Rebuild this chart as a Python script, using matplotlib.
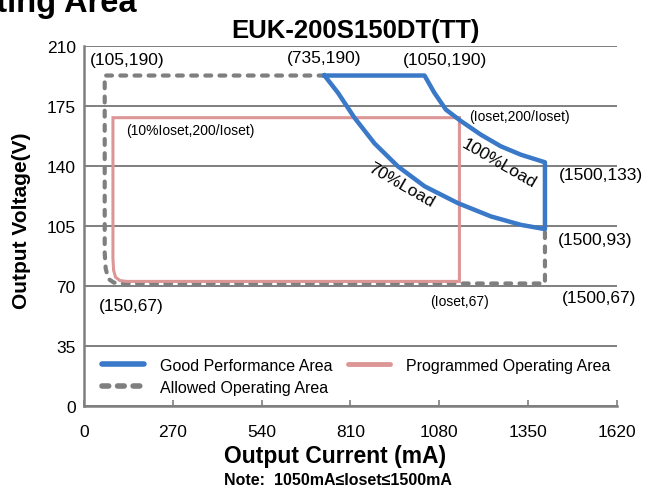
import matplotlib
matplotlib.use("Agg")
import matplotlib.pyplot as plt
from matplotlib.lines import Line2D

plt.rcParams['font.family'] = ['Liberation Sans', 'DejaVu Sans']

# Good performance area (closed outline) (mA, V)
good_i = [731, 1035, 1065, 1100, 1146, 1207, 1267, 1328, 1401, 1401,
          1328, 1237, 1136, 1035, 954, 883, 822, 772, 731]
good_v = [192.6, 192.6, 182.5, 172.7, 166, 158, 151.3, 146.4, 142, 103,
          105.5, 110.4, 118.2, 128, 139.6, 153, 168, 182.5, 192.6]

# Programmed operating area
prog_i = [1141, 88, 88, 90, 96, 109, 130, 1141, 1141]
prog_v = [168, 168, 86, 79, 75, 73, 72.5, 72.5, 168]

# Allowed operating area (dashed)
allow_i = [731, 63, 63, 66, 74, 91, 116, 1401, 1401]
allow_v = [192.6, 192.6, 89, 80, 74, 71.8, 71.3, 71.3, 103]

x_ticks = [0, 270, 540, 810, 1080, 1350, 1620]
y_ticks = [0, 35, 70, 105, 140, 175, 210]

# annotation texts with their positions (mA, V)
labels = [
    ("(105,190)", 130, 202, 12.5, 0),
    ("(735,190)", 731, 203, 12.5, 0),
    ("(1050,190)", 1098, 202, 12.5, 0),
    ("(Ioset,200/Ioset)", 1323, 169, 10, 0),
    ("(10%Ioset,200/Ioset)", 322, 161, 10, 0),
    ("100%Load", 1262, 141.5, 12.5, -30),
    ("70%Load", 964, 129, 12.5, -30),
    ("(1500,133)", 1572, 135, 12.5, 0),
    ("(1500,93)", 1553, 97, 12.5, 0),
    ("(1500,67)", 1566, 63, 12.5, 0),
    ("(Ioset,67)", 1141, 61, 10, 0),
    ("(150,67)", 143, 58.5, 12.5, 0),
]

blue = "#3a78c8"
pink = "#dc9696"
gray = "#7f7f7f"

fig = plt.figure(figsize=(6.49, 4.89), dpi=100)
ax = fig.add_axes([0.1294, 0.1683, 0.8213, 0.7362])

ax.plot(allow_i, allow_v, color=gray, lw=3, linestyle=(0, (1.4, 2.0)),
        dash_capstyle='round', solid_joinstyle='round', zorder=3)
ax.plot(prog_i, prog_v, color=pink, lw=2.2, solid_joinstyle='miter', zorder=4)
ax.plot(good_i, good_v, color=blue, lw=3.2, solid_joinstyle='round', zorder=5)

for txt, xi, yv, fs, rot in labels:
    ax.text(xi, yv, txt, fontsize=fs, rotation=rot, ha='center', va='center',
            rotation_mode='anchor', zorder=6)

ax.set_xlim(0, 1620)
ax.set_ylim(0, 210)
ax.set_xticks(x_ticks)
ax.set_yticks(y_ticks)
ax.tick_params(axis='x', direction='in', length=4, width=1.2, color=gray,
               labelsize=12.5, pad=13)
ax.tick_params(axis='y', length=0, labelsize=12.5, pad=6)
ax.yaxis.grid(True, color=gray, lw=1.4)
ax.set_axisbelow(True)
for s in ['top', 'right']:
    ax.spines[s].set_visible(False)
for s in ['left', 'bottom']:
    ax.spines[s].set_color(gray)
    ax.spines[s].set_linewidth(1.8)

ax.set_xlabel("Output Current (mA)", fontsize=16.5, fontweight='bold', labelpad=4,
              x=0.471)
ax.set_ylabel("Output Voltage(V)", fontsize=15, fontweight='bold')
ax.yaxis.set_label_coords(-0.1, 0.516)
ax.set_title("EUK-200S150DT(TT)", fontsize=18.5, fontweight='bold', pad=6,
             x=0.51)

handles = [
    Line2D([], [], color=blue, lw=4, solid_capstyle='round'),
    Line2D([], [], color=gray, lw=4, linestyle=(0, (1.2, 1.6)), dash_capstyle='round'),
    Line2D([], [], color=pink, lw=3.5, solid_capstyle='round'),
]
ax.legend(handles, ["Good Performance Area", "Allowed Operating Area",
                    "Programmed Operating Area"],
          ncol=2, frameon=False, fontsize=11.5, loc='upper left',
          bbox_to_anchor=(0.019, 0.156), handlelength=2.6, handletextpad=1.0,
          columnspacing=1.0, labelspacing=0.45, borderpad=0)

fig.text(136 / 649, 1 - 12 / 489, "Operating Area", fontsize=23.5,
         fontweight='bold', ha='right', va='baseline')
fig.text(338 / 649, 1 - 481 / 489, "Note:  1050mA\u2264Ioset\u22641500mA", fontsize=11.5,
         fontweight='bold', ha='center', va='center')

fig.savefig("out.png", dpi=100)
